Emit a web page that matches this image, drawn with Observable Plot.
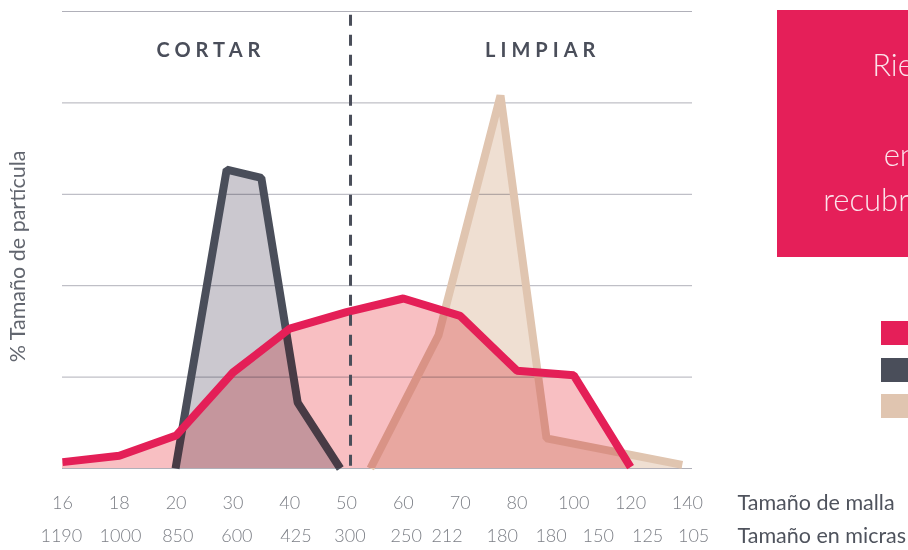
<!DOCTYPE html>
<html>
<head>
<meta charset="utf-8">
<script src="https://cdn.jsdelivr.net/npm/d3@7"></script>
<script src="https://cdn.jsdelivr.net/npm/@observablehq/plot@0.6"></script>
<style>
  html, body { margin: 0; padding: 0; background: #fff; overflow: hidden; }
  #wrap { position: relative; width: 908px; height: 550px; overflow: hidden; font-family: Lato, "Open Sans", sans-serif; }
  #chart { position: absolute; left: 0; top: 0; }
  #box { position: absolute; left: 777px; top: 10px; width: 240px; height: 247px; background: #e51f59; }
  #box .ln { position: absolute; left: 0; width: 278px; text-align: center; color: #fbe3ea; font-weight: 300; font-size: 31px; line-height: 36px; white-space: nowrap; }
  .sw { position: absolute; left: 881px; width: 40px; height: 24px; }
</style>
</head>
<body>
<div id="wrap">
  <div id="chart"></div>
  <div id="box"></div>
  <div id="legend"></div>
</div>
<script>
// Categories / tick labels
const mesh = ["16","18","20","30","40","50","60","70","80","100","120","140"];
const micras = ["1190","1000","850","600","425","300","250","212","180","180","150","125","105"];
const micrasAt = [-0.02, 1.02, 2.03, 3.07, 4.11, 5.06, 6.05, 6.77, 7.74, 8.6, 9.43, 10.3, 11.11];

// Series (x in mesh-index units, y in %)
const redX = [0, 1, 2, 3, 4, 5, 6, 7, 8, 9, 10];
const redY = [0.7, 1.4, 3.6, 10.5, 15.3, 17.1, 18.6, 16.7, 10.7, 10.2, 0.15];
const darkX = [1.99, 2.89, 3.5, 4.14, 4.89];
const darkY = [0, 32.7, 31.8, 7.2, 0];
const tanX = [5.42, 6.62, 7.71, 8.52, 10.91];
const tanY = [0, 14.6, 40.8, 3.3, 0.4];

const cutX = 5.07;
const zoneLabels = ["CORTAR", "LIMPIAR"];
const zoneX = [2.57, 8.41];
const zoneY = 45.7;
const gridY = [0, 10, 20, 30, 40, 50];
const yLabelAt = 23.2;

const boxLines = ["Riesgo", "", "en el", "recubrimiento"];
const legendColors = ["#e51f59", "#4a4e5a", "#e0c5b0"];

const red = redX.map((x, i) => ({x, y: redY[i]}));
const dark = darkX.map((x, i) => ({x, y: darkY[i]}));
const tan = tanX.map((x, i) => ({x, y: tanY[i]}));
const micrasData = micras.map((t, i) => ({t, x: micrasAt[i]}));
const zones = zoneLabels.map((t, i) => ({t, x: zoneX[i], y: zoneY}));
const meshIdx = mesh.map((_, i) => i);

const plot = Plot.plot({
  width: 908,
  height: 550,
  marginTop: 11,
  marginBottom: 82,
  marginLeft: 62,
  marginRight: 216,
  style: {fontFamily: "Lato, 'Open Sans', sans-serif", background: "transparent", overflow: "visible"},
  x: {domain: [0, 11.09], axis: null},
  y: {domain: [0, 50], axis: null},
  marks: [
    Plot.ruleY(gridY, {stroke: "#b0b0b9", strokeWidth: 1}),
    Plot.areaY(dark, {x: "x", y: "y", fill: "#cbc8cf", mixBlendMode: "multiply"}),
    Plot.line(dark, {x: "x", y: "y", stroke: "#4a4e5a", strokeWidth: 8, strokeLinejoin: "miter", strokeLinecap: "butt"}),
    Plot.areaY(tan, {x: "x", y: "y", fill: "#efdfd2", mixBlendMode: "multiply"}),
    Plot.line(tan, {x: "x", y: "y", stroke: "#e0c5b0", strokeWidth: 8, strokeLinejoin: "miter", strokeLinecap: "butt"}),
    Plot.areaY(red, {x: "x", y: "y", fill: "#f8bfc2", mixBlendMode: "multiply"}),
    Plot.line(red, {x: "x", y: "y", stroke: "#e41f57", strokeWidth: 8, strokeLinejoin: "miter", strokeLinecap: "butt"}),
    Plot.ruleX([cutX], {y1: 49.6, y2: 0, stroke: "#4a4e5a", strokeWidth: 3, strokeDasharray: "11,9"}),
    Plot.text(zones, {x: "x", y: "y", text: "t", fontSize: 20, fontWeight: 700, fill: "#4a4e5a", dx: 2.5, lineAnchor: "middle"}),
    Plot.text(meshIdx, {x: d => d, frameAnchor: "bottom", dy: 35, text: d => mesh[d], fontSize: 18, fontWeight: 300, fill: "#7c7f86", lineAnchor: "middle"}),
    Plot.text(micrasData, {x: "x", frameAnchor: "bottom", dy: 68, text: "t", fontSize: 18, fontWeight: 300, fill: "#7c7f86", lineAnchor: "middle"}),
    Plot.text(["Tamaño de malla"], {frameAnchor: "bottom-right", dx: 45, dy: 35, textAnchor: "start", lineAnchor: "middle", fontSize: 21.5, fill: "#4f535d"}),
    Plot.text(["Tamaño en micras"], {frameAnchor: "bottom-right", dx: 45, dy: 68, textAnchor: "start", lineAnchor: "middle", fontSize: 21.5, fill: "#4f535d"}),
    Plot.text([{t: "% Tamaño de partícula", y: yLabelAt}], {frameAnchor: "left", y: "y", text: "t", rotate: -90, dx: -44, textAnchor: "middle", fontSize: 21.5, fill: "#62666f", lineAnchor: "middle"})
  ]
});
document.getElementById("chart").appendChild(plot);
plot.querySelectorAll('g[aria-label="area"]').forEach(g => { g.style.mixBlendMode = "multiply"; });
plot.querySelectorAll("text").forEach(t => {
  if (zoneLabels.includes(t.textContent)) {
    t.setAttribute("letter-spacing", "5px");
    t.style.letterSpacing = "5px";
  }
});

// Pink annotation box (cut off at the right edge, as in the reference)
const box = document.getElementById("box");
const lineTops = [36, 81, 126, 171];
boxLines.forEach((t, i) => {
  const d = document.createElement("div");
  d.className = "ln";
  d.style.top = lineTops[i] + "px";
  d.textContent = t;
  box.appendChild(d);
});

// Legend swatches (labels fall outside the visible area)
const lg = document.getElementById("legend");
const swTops = [321, 358, 394];
legendColors.forEach((c, i) => {
  const s = document.createElement("div");
  s.className = "sw";
  s.style.top = swTops[i] + "px";
  s.style.background = c;
  lg.appendChild(s);
});
</script>
</body>
</html>
